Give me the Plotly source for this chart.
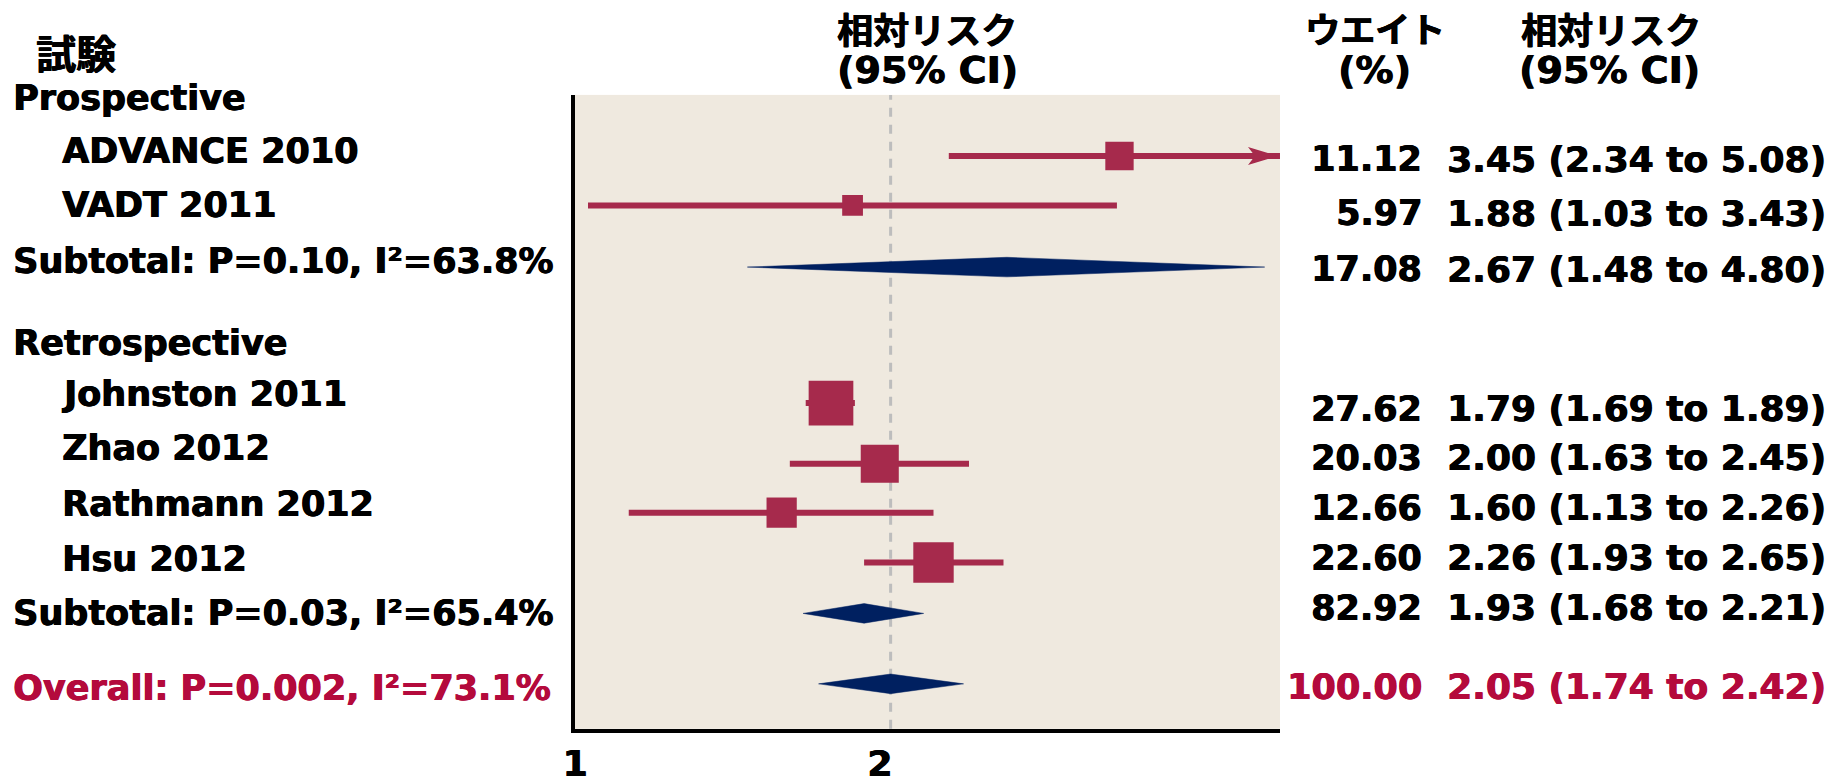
import math
import plotly.graph_objects as go

# ---------------- data ----------------
group_names = ["Prospective", "Retrospective"]

studies = ["ADVANCE 2010", "VADT 2011", "Johnston 2011", "Zhao 2012", "Rathmann 2012", "Hsu 2012"]
study_rr = [3.45, 1.88, 1.79, 2.00, 1.60, 2.26]
study_lo = [2.34, 1.03, 1.69, 1.63, 1.13, 1.93]
study_hi = [5.08, 3.43, 1.89, 2.45, 2.26, 2.65]
study_weight = [11.12, 5.97, 27.62, 20.03, 12.66, 22.60]

pooled_labels = ["Subtotal: P=0.10, I²=63.8%", "Subtotal: P=0.03, I²=65.4%", "Overall: P=0.002, I²=73.1%"]
pooled_rr = [2.67, 1.93, 2.05]
pooled_lo = [1.48, 1.68, 1.74]
pooled_hi = [4.80, 2.21, 2.42]
pooled_weight = [17.08, 82.92, 100.00]

x_tick_values = [1, 2]
x_tick_labels = ["1", "2"]
x_max = 4.97

# ---------------- layout (pixels) ----------------
W, H = 1841, 784
PLOT_LEFT, PLOT_RIGHT, PLOT_TOP, PLOT_BOTTOM = 566, 1276, 97, 745

study_row_y = [159.5, 210, 412, 474, 524, 575]
pooled_row_y = [273, 627, 699]

group_label_y = [100, 351]
study_label_y = [154, 210, 403, 458, 515, 571]
pooled_label_y = [267, 627, 703]
study_value_y = [163, 218, 418, 468, 519, 570]
pooled_value_y = [275, 621, 702]

LEFT_X, INDENT_X, HEAD_X = -2, 47, 21
WEIGHT_RIGHT_X, RR_RIGHT_X = 1421, 1828

FONT = "DejaVu Sans, Noto Sans CJK JP, sans-serif"
CJK = "Noto Sans CJK JP, DejaVu Sans, sans-serif"
TEXT_SIZE = 35
STUDY_COLOR = "#A62A4C"
DIAMOND_COLOR = "#002060"
OVERALL_COLOR = "#B40A3C"
BG_COLOR = "#EFE9DF"
REF_LINE_COLOR = "#BDBDBD"


def heavy(color):
    # thin same-colour shadow to thicken the bold strokes
    return f"0.7px 0 0 {color}, -0.3px 0 0 {color}"


fig = go.Figure()

# confidence-interval whiskers
wx, wy = [], []
for lo, hi, row in zip(study_lo, study_hi, study_row_y):
    wx += [lo, hi, None]
    wy += [row, row, None]
fig.add_trace(go.Scatter(x=wx, y=wy, mode="lines",
                         line=dict(color=STUDY_COLOR, width=6),
                         hoverinfo="skip", showlegend=False))

# point estimates: square area proportional to study weight
fig.add_trace(go.Scatter(
    x=study_rr, y=study_row_y, mode="markers",
    marker=dict(symbol="square", color=STUDY_COLOR, opacity=1,
                size=[8.5 * math.sqrt(w) for w in study_weight],
                line=dict(width=0)),
    hoverinfo="skip", showlegend=False))

# pooled-estimate diamonds
DIAMOND_HALF = 10
for rr, lo, hi, row in zip(pooled_rr, pooled_lo, pooled_hi, pooled_row_y):
    fig.add_trace(go.Scatter(
        x=[lo, rr, hi, rr, lo],
        y=[row, row - DIAMOND_HALF, row, row + DIAMOND_HALF, row],
        mode="lines", fill="toself", fillcolor=DIAMOND_COLOR,
        line=dict(color=DIAMOND_COLOR, width=0.5),
        hoverinfo="skip", showlegend=False))

shapes = []
# arrowhead for intervals running past the axis limit
for hi, row in zip(study_hi, study_row_y):
    if hi > x_max:
        shapes.append(dict(type="path", xref="x domain", yref="y",
                           xsizemode="pixel", xanchor=1,
                           ysizemode="pixel", yanchor=row,
                           path="M -2,0 L -32,9 L -25,0 L -32,-9 Z",
                           fillcolor=STUDY_COLOR, line=dict(width=0), layer="above"))

# dashed reference line at the overall estimate
shapes.append(dict(type="line", xref="x", yref="y domain",
                   x0=pooled_rr[-1], x1=pooled_rr[-1], y0=0, y1=1,
                   line=dict(color=REF_LINE_COLOR, width=3, dash="9px,8px"),
                   layer="below"))


def add_text(text, x_px, y_px, anchor="left", size=TEXT_SIZE, color="black",
             family=FONT, yanchor="middle"):
    fig.add_annotation(text=text, x=x_px / W, y=1 - y_px / H,
                       xref="paper", yref="paper", xanchor=anchor, yanchor=yanchor,
                       showarrow=False,
                       font=dict(size=size, color=color, family=family, weight="bold",
                                 shadow=heavy(color)))


# column headings
add_text("試験", HEAD_X, 53, size=40, family=CJK)
plot_center = (PLOT_LEFT + PLOT_RIGHT) / 2
add_text("相対リスク", plot_center, 0, anchor="center", size=36, family=CJK, yanchor="top")
add_text("(95% CI)", plot_center, 72, anchor="center", size=38)
add_text("ウエイト", 1372, 0, anchor="center", size=35, family=CJK, yanchor="top")
add_text("(%)", 1371, 72, anchor="center", size=38)
add_text("相対リスク", 1609, 0, anchor="center", size=36, family=CJK, yanchor="top")
add_text("(95% CI)", 1608, 72, anchor="center", size=38)

# group headers
for name, y in zip(group_names, group_label_y):
    add_text(name, LEFT_X, y)

# study rows
for name, rr, lo, hi, wt, ly, vy in zip(studies, study_rr, study_lo, study_hi,
                                        study_weight, study_label_y, study_value_y):
    add_text(name, INDENT_X, ly)
    add_text(f"{wt:.2f}", WEIGHT_RIGHT_X, vy, anchor="right")
    add_text(f"{rr:.2f} ({lo:.2f} to {hi:.2f})", RR_RIGHT_X, vy, anchor="right", size=36)

# pooled rows (last one is the overall estimate)
for i, (name, rr, lo, hi, wt, ly, vy) in enumerate(zip(pooled_labels, pooled_rr, pooled_lo,
                                                       pooled_hi, pooled_weight,
                                                       pooled_label_y, pooled_value_y)):
    color = OVERALL_COLOR if i == len(pooled_labels) - 1 else "black"
    add_text(name, LEFT_X, ly, color=color)
    add_text(f"{wt:.2f}", WEIGHT_RIGHT_X, vy, anchor="right", color=color)
    add_text(f"{rr:.2f} ({lo:.2f} to {hi:.2f})", RR_RIGHT_X, vy, anchor="right",
             size=36, color=color)

fig.update_layout(
    width=W, height=H, autosize=False,
    margin=dict(l=0, r=0, t=0, b=0),
    paper_bgcolor="white", plot_bgcolor=BG_COLOR,
    shapes=shapes, showlegend=False,
    xaxis=dict(type="log", range=[0, math.log10(x_max)],
               domain=[PLOT_LEFT / W, PLOT_RIGHT / W],
               tickvals=x_tick_values, ticktext=x_tick_labels,
               ticks="", showgrid=False, zeroline=False,
               showline=True, linecolor="black", linewidth=4,
               tickfont=dict(size=36, color="black", family=FONT, weight="bold",
                             shadow=heavy("black")),
               fixedrange=True),
    yaxis=dict(range=[PLOT_BOTTOM, PLOT_TOP],
               domain=[(H - PLOT_BOTTOM) / H, (H - PLOT_TOP) / H],
               showticklabels=False, ticks="", showgrid=False, zeroline=False,
               showline=True, linecolor="black", linewidth=4,
               fixedrange=True),
)

fig.write_html("out.html")
